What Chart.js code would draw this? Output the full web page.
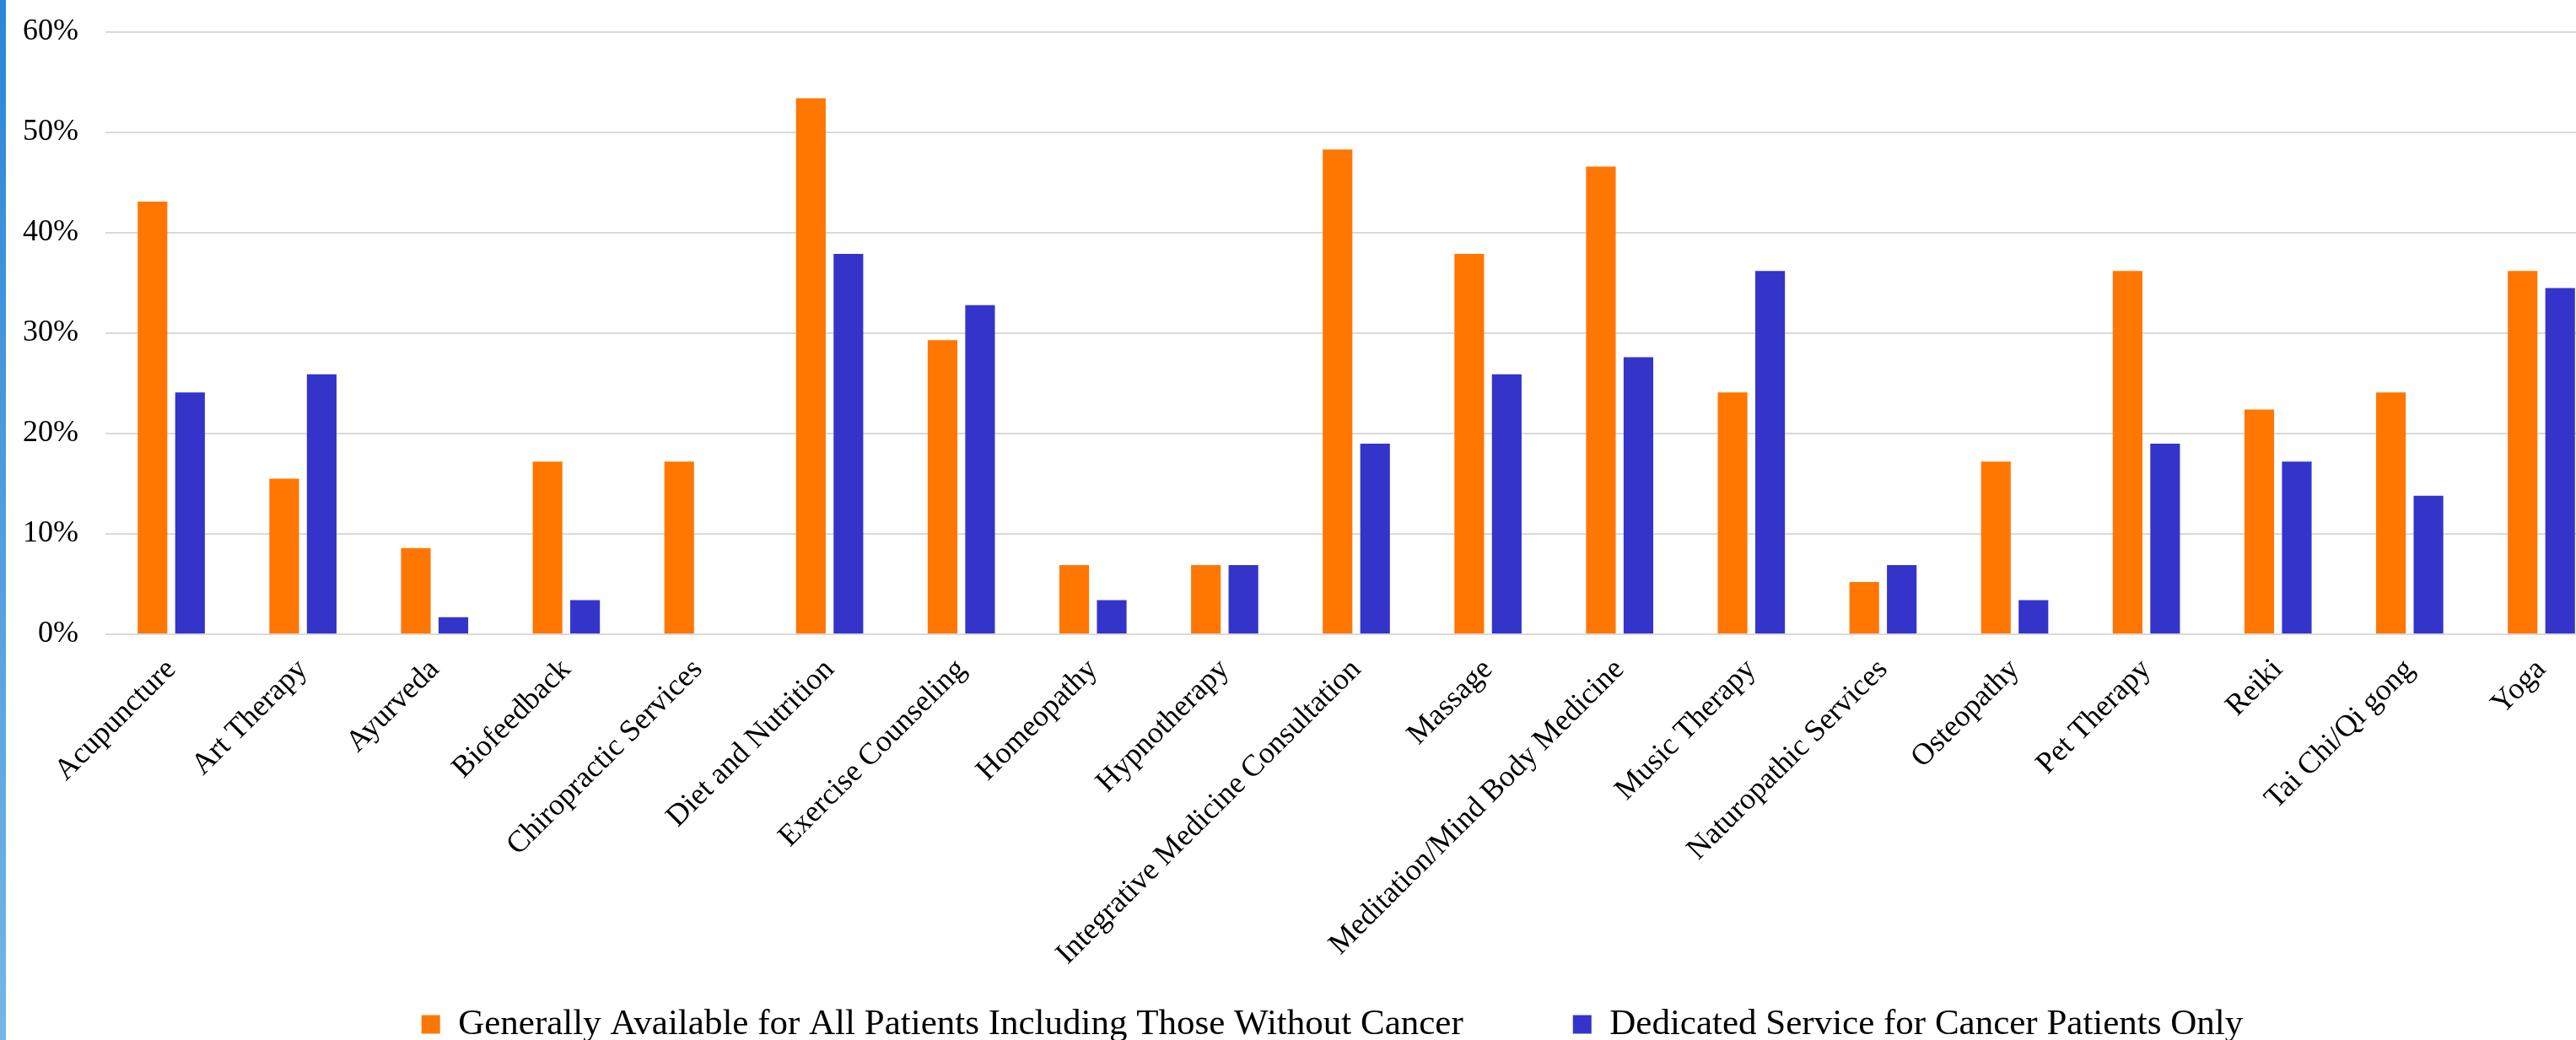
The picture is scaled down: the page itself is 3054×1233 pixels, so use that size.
<!DOCTYPE html>
<html>
<head>
<meta charset="utf-8">
<script src="https://cdn.jsdelivr.net/npm/chart.js@4.4.1/dist/chart.umd.min.js"></script>
<style>
    html, body { margin: 0; padding: 0; background: #fff; overflow: hidden; }
    .edge {
        position: absolute; left: 0; top: 0; width: 7px; height: 1233px;
        background: linear-gradient(to bottom, #2a85d8, #74b6e8);
        z-index: 2;
    }
    #wrap { position: absolute; left: 0; top: 0; }
</style>
</head>
<body>
<div class="edge"></div>
<div id="wrap"><canvas id="therapyChart" width="3140" height="1360"></canvas></div>
<script>
// ── DATA ──
const categories = [
    'Acupuncture', 'Art Therapy', 'Ayurveda', 'Biofeedback', 'Chiropractic Services',
    'Diet and Nutrition', 'Exercise Counseling', 'Homeopathy', 'Hypnotherapy',
    'Integrative Medicine Consultation', 'Massage', 'Meditation/Mind Body Medicine',
    'Music Therapy', 'Naturopathic Services', 'Osteopathy', 'Pet Therapy', 'Reiki',
    'Tai Chi/Qi gong', 'Yoga'
];

const generallyAvailable = [
    43.1, 15.5, 8.6, 17.2, 17.2, 53.4, 29.3, 6.9, 6.9, 48.3,
    37.9, 46.6, 24.1, 5.2, 17.2, 36.2, 22.4, 24.1, 36.2
];

const cancerOnly = [
    24.1, 25.9, 1.7, 3.4, 0, 37.9, 32.8, 3.4, 6.9, 19.0,
    25.9, 27.6, 36.2, 6.9, 3.4, 19.0, 17.2, 13.8, 34.5
];

const yTicks = [0, 10, 20, 30, 40, 50, 60];

// ── CHART SETUP ──
Chart.defaults.font.family = '"Liberation Serif", "Times New Roman", serif';
Chart.defaults.color = '#000';

// legend sits just under the rotated labels, nudged right to line up with the original
const legendLift = {
    id: 'legendLift',
    afterLayout(chart) {
        const lg = chart.legend;
        const h = lg.bottom - lg.top;
        lg.top = 1063;
        lg.bottom = lg.top + h;
        lg.left += 34;
        lg.right += 34;
    }
};

const ctx = document.getElementById('therapyChart').getContext('2d');
const therapyChart = new Chart(ctx, {
    type: 'bar',
    data: {
        labels: categories,
        datasets: [{
            label: 'Generally Available for All Patients Including Those Without Cancer',
            data: generallyAvailable,
            backgroundColor: '#FF7700',
            borderWidth: 0,
            categoryPercentage: 0.57,
            barPercentage: 0.79
        }, {
            label: 'Dedicated Service for Cancer Patients Only',
            data: cancerOnly,
            backgroundColor: '#3434CB',
            borderWidth: 0,
            categoryPercentage: 0.57,
            barPercentage: 0.79
        }]
    },
    plugins: [legendLift],
    options: {
        responsive: false,
        devicePixelRatio: 1,
        animation: false,
        layout: { padding: { top: 38, right: 49, bottom: 0, left: 0 } },
        plugins: {
            legend: {
                position: 'bottom',
                labels: {
                    boxWidth: 22,
                    boxHeight: 22,
                    padding: 130,
                    font: { size: 43 }
                }
            },
            tooltip: { enabled: false }
        },
        scales: {
            x: {
                grid: { display: false },
                border: { display: false },
                ticks: {
                    autoSkip: false,
                    maxRotation: 45,
                    minRotation: 45,
                    padding: 13,
                    font: { size: 36 }
                },
                afterFit: scale => { scale.height = 1360 - 752 - 183; }
            },
            y: {
                min: 0,
                max: 60,
                afterBuildTicks: scale => {
                    scale.ticks = yTicks.map(v => ({ value: v }));
                },
                afterFit: scale => { scale.width = 125; },
                // invisible tick marks make the gap, so the top padding stays small
                grid: {
                    color: '#D9D9D9',
                    lineWidth: 2,
                    drawTicks: true,
                    tickLength: 32,
                    tickColor: 'rgba(0,0,0,0)'
                },
                border: { display: false },
                ticks: {
                    padding: 0,
                    font: { size: 36 },
                    callback: v => v + '%'
                }
            }
        }
    }
});
</script>
</body>
</html>
